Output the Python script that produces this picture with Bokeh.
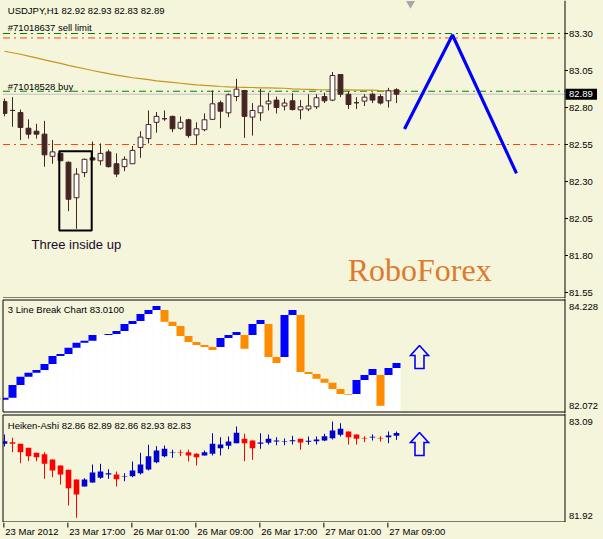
from bokeh.plotting import figure
from bokeh.models import Range1d, ColumnDataSource
from bokeh.layouts import column
from bokeh.embed import file_html
from bokeh.resources import INLINE
from bokeh.core.properties import value

# ---------------- data ----------------
symbol_title = "USDJPY,H1  82.92 82.93 82.83 82.89"
bar = list(range(50))

c_open = [82.84, 82.78, 82.766, 82.66, 82.64, 82.62, 82.47, 82.49, 82.43, 82.19,
          82.36, 82.46, 82.44, 82.50, 82.42, 82.40, 82.42, 82.53, 82.59, 82.70,
          82.724, 82.74, 82.66, 82.717, 82.615, 82.65, 82.72, 82.832, 82.764, 82.874,
          82.915, 82.735, 82.764, 82.825, 82.85, 82.81, 82.845, 82.784, 82.79, 82.805,
          82.874, 82.85, 83.023, 82.89, 82.832, 82.843, 82.89, 82.874, 82.845, 82.92]
c_high = [82.86, 82.87, 82.786, 82.72, 82.69, 82.71, 82.58, 82.495, 82.435, 82.39,
          82.455, 82.57, 82.557, 82.516, 82.49, 82.47, 82.54, 82.64, 82.78, 82.77,
          82.78, 82.745, 82.74, 82.724, 82.70, 82.76, 82.915, 82.847, 82.895, 82.994,
          82.915, 82.83, 82.926, 82.90, 82.874, 82.86, 82.897, 82.85, 82.89, 82.89,
          82.90, 83.04, 83.023, 82.91, 82.87, 82.89, 82.90, 82.89, 82.933, 82.93]
c_low = [82.74, 82.67, 82.58, 82.59, 82.59, 82.40, 82.42, 82.44, 82.10, 81.98,
         82.33, 82.445, 82.41, 82.395, 82.33, 82.37, 82.42, 82.46, 82.557, 82.63,
         82.71, 82.633, 82.65, 82.595, 82.55, 82.64, 82.717, 82.66, 82.735, 82.843,
         82.595, 82.61, 82.71, 82.78, 82.76, 82.78, 82.78, 82.72, 82.775, 82.79,
         82.83, 82.843, 82.87, 82.79, 82.79, 82.81, 82.83, 82.82, 82.80, 82.83]
c_close = [82.76, 82.78, 82.665, 82.62, 82.62, 82.48, 82.50, 82.44, 82.18, 82.35,
           82.45, 82.445, 82.49, 82.40, 82.35, 82.45, 82.51, 82.60, 82.685, 82.74,
           82.724, 82.656, 82.70, 82.61, 82.656, 82.717, 82.825, 82.775, 82.886, 82.924,
           82.74, 82.78, 82.81, 82.843, 82.80, 82.83, 82.786, 82.805, 82.81, 82.866,
           82.845, 83.016, 82.89, 82.82, 82.832, 82.87, 82.85, 82.83, 82.913, 82.89]

ma_values = [83.18, 83.17, 83.16, 83.147, 83.135, 83.122, 83.11, 83.098, 83.085, 83.073,
             83.062, 83.05, 83.039, 83.029, 83.019, 83.01, 83.001, 82.995, 82.988, 82.98,
             82.975, 82.97, 82.964, 82.958, 82.953, 82.949, 82.946, 82.942, 82.939, 82.937,
             82.936, 82.935, 82.933, 82.932, 82.931, 82.93, 82.926, 82.924, 82.923, 82.921,
             82.92, 82.92, 82.919, 82.919, 82.918, 82.918, 82.917, 82.914, 82.913, 82.912]

sell_limit_level = 83.30
sell_limit_stop = 83.27
buy_level = 82.91
buy_stop = 82.55
bid_level = 82.89
bid_text = "82.89"
sell_limit_text = "#71018637 sell limit"
buy_text = "#71018528 buy"

main_ticks = [81.55, 81.80, 82.05, 82.30, 82.55, 82.80, 83.05, 83.30]

zig_bar = [50, 56, 64]
zig_price = [82.655, 83.29, 82.355]

pattern_text = "Three inside up"
pattern_left, pattern_right = 6.85, 10.9
pattern_top, pattern_bottom = 82.505, 81.969
brand_text = "RoboForex"

# 3 line break
lb_title = "3 Line Break Chart 83.0100"
lb_top_label, lb_bottom_label = 84.228, 82.072
lb_open = [82.299, 82.338, 82.582, 82.742, 82.819, 82.871, 82.986, 83.140, 83.179, 83.300,
           83.396, 83.435, 83.545, 83.545, 83.564, 83.622, 83.756, 83.814, 83.949, 84.026,
           84.026, 83.801, 83.718, 83.525, 83.410, 83.352, 83.314, 83.314, 83.487, 83.545,
           83.545, 83.545, 83.756, 83.756, 83.121, 83.121, 83.930, 83.930, 82.832, 82.794,
           82.703, 82.626, 82.505, 82.409, 82.409, 82.678, 82.775, 82.775, 82.775, 82.909]
lb_close = [82.338, 82.582, 82.742, 82.819, 82.871, 82.986, 83.140, 83.179, 83.300, 83.396,
            83.435, 83.545, 83.545, 83.564, 83.622, 83.756, 83.814, 83.949, 84.026, 84.103,
            83.801, 83.718, 83.525, 83.410, 83.352, 83.314, 83.256, 83.487, 83.545, 83.602,
            83.281, 83.756, 83.833, 83.121, 83.006, 83.930, 84.026, 82.832, 82.794, 82.703,
            82.626, 82.505, 82.409, 82.395, 82.678, 82.775, 82.890, 82.184, 82.909, 83.006]

# Heiken-Ashi
ha_title = "Heiken-Ashi 82.86 82.89 82.86 82.93 82.83"
ha_top_label, ha_bottom_label = 83.09, 81.92
ha_open = [82.773, 82.790, 82.773, 82.729, 82.675, 82.660, 82.602, 82.537, 82.491, 82.386,
           82.310, 82.353, 82.404, 82.440, 82.440, 82.416, 82.422, 82.454, 82.494, 82.573,
           82.638, 82.676, 82.680, 82.682, 82.664, 82.646, 82.664, 82.725, 82.751, 82.779,
           82.827, 82.808, 82.773, 82.783, 82.797, 82.798, 82.800, 82.827, 82.795, 82.801,
           82.808, 82.833, 82.870, 82.906, 82.873, 82.832, 82.840, 82.832, 82.844, 82.860]
ha_high = [82.873, 82.838, 82.773, 82.729, 82.675, 82.682, 82.602, 82.537, 82.491, 82.386,
           82.400, 82.548, 82.556, 82.497, 82.472, 82.454, 82.581, 82.675, 82.762, 82.747,
           82.754, 82.708, 82.708, 82.708, 82.671, 82.700, 82.887, 82.844, 82.852, 82.960,
           82.881, 82.808, 82.887, 82.873, 82.844, 82.830, 82.859, 82.827, 82.852, 82.852,
           82.881, 83.014, 82.996, 82.906, 82.873, 82.855, 82.873, 82.855, 82.906, 82.905]
ha_low = [82.743, 82.682, 82.562, 82.584, 82.584, 82.393, 82.411, 82.332, 82.104, 81.971,
          82.310, 82.350, 82.393, 82.393, 82.310, 82.367, 82.411, 82.440, 82.483, 82.562,
          82.627, 82.621, 82.638, 82.581, 82.537, 82.646, 82.646, 82.646, 82.714, 82.779,
          82.584, 82.599, 82.718, 82.765, 82.757, 82.757, 82.765, 82.708, 82.762, 82.765,
          82.801, 82.819, 82.852, 82.765, 82.765, 82.790, 82.808, 82.797, 82.779, 82.815]
ha_close = [82.801, 82.773, 82.682, 82.638, 82.627, 82.556, 82.483, 82.440, 82.292, 82.223,
            82.386, 82.462, 82.472, 82.454, 82.389, 82.420, 82.483, 82.548, 82.638, 82.700,
            82.718, 82.680, 82.676, 82.646, 82.627, 82.682, 82.773, 82.765, 82.797, 82.892,
            82.779, 82.725, 82.787, 82.827, 82.808, 82.802, 82.812, 82.787, 82.805, 82.819,
            82.855, 82.917, 82.935, 82.844, 82.827, 82.828, 82.848, 82.828, 82.862, 82.890]

time_ticks = [0, 8, 16, 24, 32, 40, 48]
time_labels = ["23 Mar 2012", "23 Mar 17:00", "26 Mar 01:00", "26 Mar 09:00",
               "26 Mar 17:00", "27 Mar 01:00", "27 Mar 09:00"]

# ---------------- styling / geometry ----------------
BG = "#F5F5DC"
DARK = "#452424"
FONT = "Liberation Sans"
FS = "9.5px"
W = 603
PX_X = 1 / 8.0                      # bar units per pixel (bar i sits at pixel 4 + 8 i)
X_LO = -0.5                         # pixel 0
X_HI = X_LO + W * PX_X              # pixel 603
LEFT_X = X_LO + 2.5 * PX_X          # left frame line (pixel 2.5)
AXIS_X = X_LO + 564.5 * PX_X        # price-axis line (pixel 564.5)
LABEL_X = AXIS_X + 4 * PX_X

# hollow up-arrow outline, in pixel offsets from its tip
ARROW_DX = [0, 9, 4.5, 4.5, -4.5, -4.5, -9, 0]
ARROW_DY = [0, 10, 10, 23, 23, 10, 10, 0]
ARROW_X = 51.875


def make_fig(height, y_lo, y_hi):
    f = figure(width=W, height=height, x_range=Range1d(X_LO, X_HI), y_range=Range1d(y_lo, y_hi),
               output_backend="svg", toolbar_location=None, tools="",
               x_axis_location=None, y_axis_location=None,
               min_border_left=0, min_border_right=0, min_border_top=0, min_border_bottom=0,
               background_fill_color=BG, border_fill_color=BG)
    f.grid.visible = False
    f.outline_line_color = None
    return f


def frame_lines(f, top_y, bot_y, with_top=True):
    # mask anything left of the frame, then draw the frame
    f.quad(left=[X_LO], right=[LEFT_X], top=[f.y_range.end], bottom=[f.y_range.start],
           fill_color=BG, line_color=None)
    xs0 = [LEFT_X, AXIS_X, LEFT_X]
    ys0 = [top_y, f.y_range.end, bot_y]
    xs1 = [LEFT_X, AXIS_X, AXIS_X]
    ys1 = [bot_y, f.y_range.start, bot_y]
    if with_top:
        xs0.append(LEFT_X); ys0.append(top_y); xs1.append(AXIS_X); ys1.append(top_y)
    f.segment(x0=xs0, y0=ys0, x1=xs1, y1=ys1, line_color="black", line_width=1)


def scale_labels(f, ys, labels):
    f.text(x=[LABEL_X] * len(ys), y=ys, text=labels, text_font=value(FONT), text_font_size=FS,
           text_color="black", text_baseline="middle", text_align="left")


def up_arrow(f, tip_price, px_y):
    xs = [ARROW_X + dx * PX_X for dx in ARROW_DX]
    ys = [tip_price - dy * px_y for dy in ARROW_DY]
    f.line(xs, ys, line_color="#0000FF", line_width=1.6, line_join="miter")


# ---------------- main panel: canvas rows 0..298 ----------------
S1 = 1 / 148.0                       # price per pixel, 83.30 at row 33
p1 = make_fig(298, 83.30 - 265 * S1, 83.30 + 33 * S1)
bottom1 = 83.30 - 264.5 * S1

for lvl, col in [(sell_limit_level, "#008000"), (sell_limit_stop, "#FF4500"),
                 (buy_level, "#008000"), (buy_stop, "#FF4500")]:
    p1.segment(x0=[LEFT_X], y0=[lvl], x1=[AXIS_X], y1=[lvl], line_color=col,
               line_width=1, line_dash="7 4 2 4")
p1.segment(x0=[LEFT_X], y0=[bid_level], x1=[AXIS_X], y1=[bid_level],
           line_color="#C0C0C0", line_width=1)

src = ColumnDataSource(dict(
    x=bar, o=c_open, h=c_high, l=c_low, c=c_close,
    top=[max(o, c) for o, c in zip(c_open, c_close)],
    bot=[min(o, c) for o, c in zip(c_open, c_close)],
    fill=["white" if c >= o else DARK for o, c in zip(c_open, c_close)],
))
p1.line(bar, ma_values, line_color="#C8961E", line_width=1.2)
p1.segment(x0="x", y0="l", x1="x", y1="h", source=src, line_color=DARK, line_width=1)
p1.vbar(x="x", width=0.6, top="top", bottom="bot", source=src,
        fill_color="fill", line_color=DARK, line_width=1)

p1.quad(left=[pattern_left], right=[pattern_right], top=[pattern_top], bottom=[pattern_bottom],
        fill_color=None, line_color="black", line_width=2)
p1.line(zig_bar, zig_price, line_color="#0000FF", line_width=3.2)
p1.scatter([50.75], [83.30 + 30 * S1], marker="inverted_triangle", size=9,
           fill_color="#A8A8A8", line_color=None)

p1.text(x=[0.41], y=[83.30 + 23 * S1], text=[symbol_title], text_font=value(FONT),
        text_font_size=FS, text_color="black", text_baseline="middle", text_align="left")
p1.text(x=[0.41], y=[sell_limit_level + 6.3 * S1], text=[sell_limit_text], text_font=value(FONT),
        text_font_size=FS, text_color="black", text_baseline="middle", text_align="left")
p1.text(x=[0.41], y=[buy_level + 5 * S1], text=[buy_text], text_font=value(FONT),
        text_font_size=FS, text_color="black", text_baseline="middle", text_align="left")
p1.text(x=[3.375], y=[pattern_bottom - 14.3 * S1], text=[pattern_text], text_font=value(FONT),
        text_font_size="13px", text_color="#1a0a2a", text_baseline="middle", text_align="left")
p1.text(x=[42.9], y=[81.705], text=[brand_text], text_font=value("Liberation Serif"),
        text_font_size="32px", text_color="#DE7A2C", text_baseline="alphabetic", text_align="left")

frame_lines(p1, None, bottom1, with_top=False)
p1.segment(x0=[AXIS_X] * len(main_ticks), y0=main_ticks,
           x1=[AXIS_X + 3 * PX_X] * len(main_ticks), y1=main_ticks, line_color="black", line_width=1)
scale_labels(p1, main_ticks, ["%.2f" % t for t in main_ticks])
p1.quad(left=[AXIS_X + 0.5 * PX_X], right=[AXIS_X + 32 * PX_X],
        top=[bid_level + 5.5 * S1], bottom=[bid_level - 5.5 * S1],
        fill_color="black", line_color=None)
p1.text(x=[LABEL_X], y=[bid_level], text=[bid_text], text_font=value(FONT),
        text_font_size=FS, text_color="white", text_baseline="middle", text_align="left")

# ---------------- 3 line break: canvas rows 298..413 ----------------
S2 = (lb_top_label - lb_bottom_label) / 112.0     # top label at row 299, bottom at row 411
p2 = make_fig(115, lb_top_label - 114 * S2, lb_top_label + 1 * S2)
lb_lo = [min(o, c) for o, c in zip(lb_open, lb_close)]
lb_hi = [max(o, c) for o, c in zip(lb_open, lb_close)]
lb_col = ["#0000FF" if c >= o else "#FF8C00" for o, c in zip(lb_open, lb_close)]
p2.vbar(x=bar, width=1.0, bottom=lb_bottom_label, top=lb_lo, fill_color="white", line_color=None)
p2.vbar(x=bar, width=1.0, bottom=lb_lo, top=lb_hi, fill_color=lb_col, line_color=None)
p2.text(x=[0.41], y=[lb_top_label - 10.3 * S2], text=[lb_title], text_font=value(FONT),
        text_font_size=FS, text_color="black", text_baseline="middle", text_align="left")
up_arrow(p2, lb_top_label - 46 * S2, S2)
frame_lines(p2, lb_top_label - 0.5 * S2, lb_top_label - 112.5 * S2)
scale_labels(p2, [lb_top_label - 7.7 * S2, lb_bottom_label + 6 * S2],
             ["%.3f" % lb_top_label, "%.3f" % lb_bottom_label])

# ---------------- Heiken-Ashi: canvas rows 413..522 ----------------
S3 = (ha_top_label - ha_bottom_label) / 108.0     # top label at row 414, bottom at row 522
p3 = make_fig(109, ha_top_label - 108 * S3, ha_top_label + 1 * S3)
ha_col = ["#0000CD" if c >= o else "#FF0000" for o, c in zip(ha_open, ha_close)]
p3.segment(x0=bar, y0=ha_low, x1=bar, y1=ha_high, line_color=ha_col, line_width=1)
p3.vbar(x=bar, width=0.7, bottom=[min(o, c) for o, c in zip(ha_open, ha_close)],
        top=[max(o, c) for o, c in zip(ha_open, ha_close)], fill_color=ha_col, line_color=None)
p3.text(x=[0.41], y=[ha_top_label - 10.7 * S3], text=[ha_title], text_font=value(FONT),
        text_font_size=FS, text_color="black", text_baseline="middle", text_align="left")
up_arrow(p3, ha_top_label - 18 * S3, S3)
frame_lines(p3, ha_top_label - 0.5 * S3, ha_top_label - 107.5 * S3)
scale_labels(p3, [ha_top_label - 7.7 * S3, ha_bottom_label + 7 * S3],
             ["%.2f" % ha_top_label, "%.2f" % ha_bottom_label])

# ---------------- time axis strip: canvas rows 522..539 ----------------
p4 = make_fig(17, 0, 17)
p4.segment(x0=[t - 0.08 for t in time_ticks], y0=17, x1=[t - 0.08 for t in time_ticks], y1=12,
           line_color="black", line_width=1)
p4.text(x=[t + 0.1 for t in time_ticks], y=14, text=time_labels, text_font=value(FONT),
        text_font_size=FS, text_color="black", text_baseline="top", text_align="left")

layout = column(p1, p2, p3, p4, spacing=0)
layout.styles = {"background-color": BG}
open("out.html", "w").write(file_html(layout, INLINE))
